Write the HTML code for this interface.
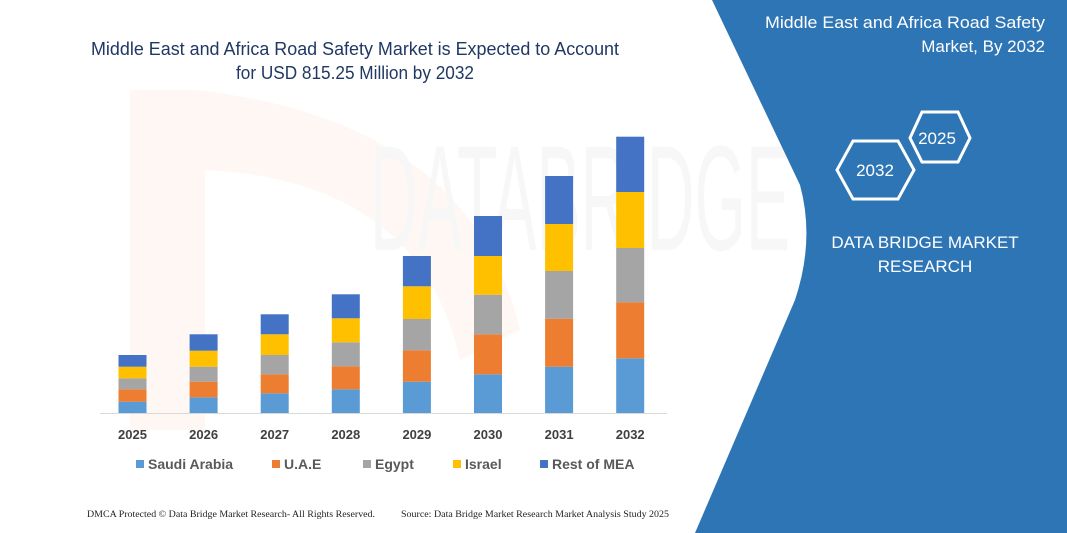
<!DOCTYPE html>
<html><head><meta charset="utf-8"><style>
html,body{margin:0;padding:0;background:#fff}
svg{display:block}
</style></head><body>
<svg width="1067" height="533" viewBox="0 0 1067 533" xmlns="http://www.w3.org/2000/svg" font-family="Liberation Sans, sans-serif">
<rect width="1067" height="533" fill="#fff"/>
<!-- faint watermark -->
<path d="M130 90 L195 90 Q470 120 520 330 L460 360 Q420 180 205 170 L205 430 L130 430 Z" fill="#fdf4f0" opacity="0.7"/>
<text x="370" y="250" font-size="150" fill="#f7f7f7" textLength="420" lengthAdjust="spacingAndGlyphs">DATABRIDGE</text>
<!-- blue panel -->
<path d="M712 0 L1067 0 L1067 533 L695 533 L795 300 Q815 240 800 185 Z" fill="#2E75B6"/>
<text x="1045" y="28" font-size="17" fill="#fff" text-anchor="end" textLength="280" lengthAdjust="spacingAndGlyphs">Middle East and Africa Road Safety</text>
<text x="1045" y="52" font-size="17" fill="#fff" text-anchor="end">Market, By 2032</text>
<polygon points="922,112 958,112 970,138 958,162 922,162 910,138" fill="none" stroke="#fff" stroke-width="3"/>
<polygon points="853,141 898,141 914,170 898,199 853,199 837,170" fill="none" stroke="#fff" stroke-width="3"/>
<text x="937" y="144" font-size="17" fill="#fff" text-anchor="middle">2025</text>
<text x="875" y="176" font-size="17" fill="#fff" text-anchor="middle">2032</text>
<text x="925" y="248" font-size="17" fill="#fff" text-anchor="middle">DATA BRIDGE MARKET</text>
<text x="925" y="272" font-size="17" fill="#fff" text-anchor="middle">RESEARCH</text>
<!-- title -->
<text x="355" y="55" font-size="18" fill="#1F3864" text-anchor="middle" textLength="528" lengthAdjust="spacingAndGlyphs">Middle East and Africa Road Safety Market is Expected to Account</text>
<text x="355" y="79" font-size="18" fill="#1F3864" text-anchor="middle" textLength="238" lengthAdjust="spacingAndGlyphs">for USD 815.25 Million by 2032</text>
<!-- axis -->
<line x1="100" y1="413.5" x2="667" y2="413.5" stroke="#d9d9d9" stroke-width="1"/>
<!-- legend -->
<g font-size="14" font-weight="bold" fill="#595959">
<rect x="136" y="460" width="8" height="8" fill="#5B9BD5"/><text x="148" y="469">Saudi Arabia</text>
<rect x="272" y="460" width="8" height="8" fill="#ED7D31"/><text x="284" y="469">U.A.E</text>
<rect x="363" y="460" width="8" height="8" fill="#A5A5A5"/><text x="375" y="469">Egypt</text>
<rect x="453" y="460" width="8" height="8" fill="#FFC000"/><text x="465" y="469">Israel</text>
<rect x="540" y="460" width="8" height="8" fill="#4472C4"/><text x="552" y="469">Rest of MEA</text>
</g>
<g font-family="Liberation Serif, serif" font-size="9" fill="#222">
<text x="87" y="517" textLength="288" lengthAdjust="spacingAndGlyphs">DMCA Protected © Data Bridge Market Research-  All Rights Reserved.</text>
<text x="401" y="517" textLength="268" lengthAdjust="spacingAndGlyphs">Source: Data Bridge Market Research  Market Analysis Study 2025</text>
</g>
<g>
<rect x="118.5" y="401.7" width="28" height="11.3" fill="#5B9BD5"/><rect x="118.5" y="389.3" width="28" height="12.4" fill="#ED7D31"/><rect x="118.5" y="378.3" width="28" height="11" fill="#A5A5A5"/><rect x="118.5" y="366.7" width="28" height="11.6" fill="#FFC000"/><rect x="118.5" y="355" width="28" height="11.7" fill="#4472C4"/>
<rect x="189.6" y="397.3" width="28" height="15.7" fill="#5B9BD5"/><rect x="189.6" y="381.7" width="28" height="15.6" fill="#ED7D31"/><rect x="189.6" y="366.7" width="28" height="15" fill="#A5A5A5"/><rect x="189.6" y="350.7" width="28" height="16" fill="#FFC000"/><rect x="189.6" y="334.3" width="28" height="16.4" fill="#4472C4"/>
<rect x="260.7" y="393.3" width="28" height="19.7" fill="#5B9BD5"/><rect x="260.7" y="374.3" width="28" height="19" fill="#ED7D31"/><rect x="260.7" y="355" width="28" height="19.3" fill="#A5A5A5"/><rect x="260.7" y="334.3" width="28" height="20.7" fill="#FFC000"/><rect x="260.7" y="314.3" width="28" height="20" fill="#4472C4"/>
<rect x="331.8" y="389.3" width="28" height="23.7" fill="#5B9BD5"/><rect x="331.8" y="366.3" width="28" height="23" fill="#ED7D31"/><rect x="331.8" y="342.3" width="28" height="24" fill="#A5A5A5"/><rect x="331.8" y="318.3" width="28" height="24" fill="#FFC000"/><rect x="331.8" y="294.3" width="28" height="24" fill="#4472C4"/>
<rect x="402.9" y="381.7" width="28" height="31.3" fill="#5B9BD5"/><rect x="402.9" y="350.3" width="28" height="31.4" fill="#ED7D31"/><rect x="402.9" y="319" width="28" height="31.3" fill="#A5A5A5"/><rect x="402.9" y="286.3" width="28" height="32.7" fill="#FFC000"/><rect x="402.9" y="256" width="28" height="30.3" fill="#4472C4"/>
<rect x="474" y="374.3" width="28" height="38.7" fill="#5B9BD5"/><rect x="474" y="334.3" width="28" height="40" fill="#ED7D31"/><rect x="474" y="294.7" width="28" height="39.6" fill="#A5A5A5"/><rect x="474" y="256" width="28" height="38.7" fill="#FFC000"/><rect x="474" y="216" width="28" height="40" fill="#4472C4"/>
<rect x="545.1" y="366.7" width="28" height="46.3" fill="#5B9BD5"/><rect x="545.1" y="318.7" width="28" height="48" fill="#ED7D31"/><rect x="545.1" y="271" width="28" height="47.7" fill="#A5A5A5"/><rect x="545.1" y="224" width="28" height="47" fill="#FFC000"/><rect x="545.1" y="176" width="28" height="48" fill="#4472C4"/>
<rect x="616.2" y="358.3" width="28" height="54.7" fill="#5B9BD5"/><rect x="616.2" y="302.3" width="28" height="56" fill="#ED7D31"/><rect x="616.2" y="248" width="28" height="54.3" fill="#A5A5A5"/><rect x="616.2" y="192" width="28" height="56" fill="#FFC000"/><rect x="616.2" y="136.7" width="28" height="55.3" fill="#4472C4"/>
</g>
<g font-size="13" font-weight="bold" fill="#404040" text-anchor="middle">
<text x="132.5" y="439">2025</text><text x="203.6" y="439">2026</text><text x="274.7" y="439">2027</text><text x="345.8" y="439">2028</text>
<text x="416.9" y="439">2029</text><text x="488" y="439">2030</text><text x="559.1" y="439">2031</text><text x="630.2" y="439">2032</text>
</g>
</svg>
</body></html>
